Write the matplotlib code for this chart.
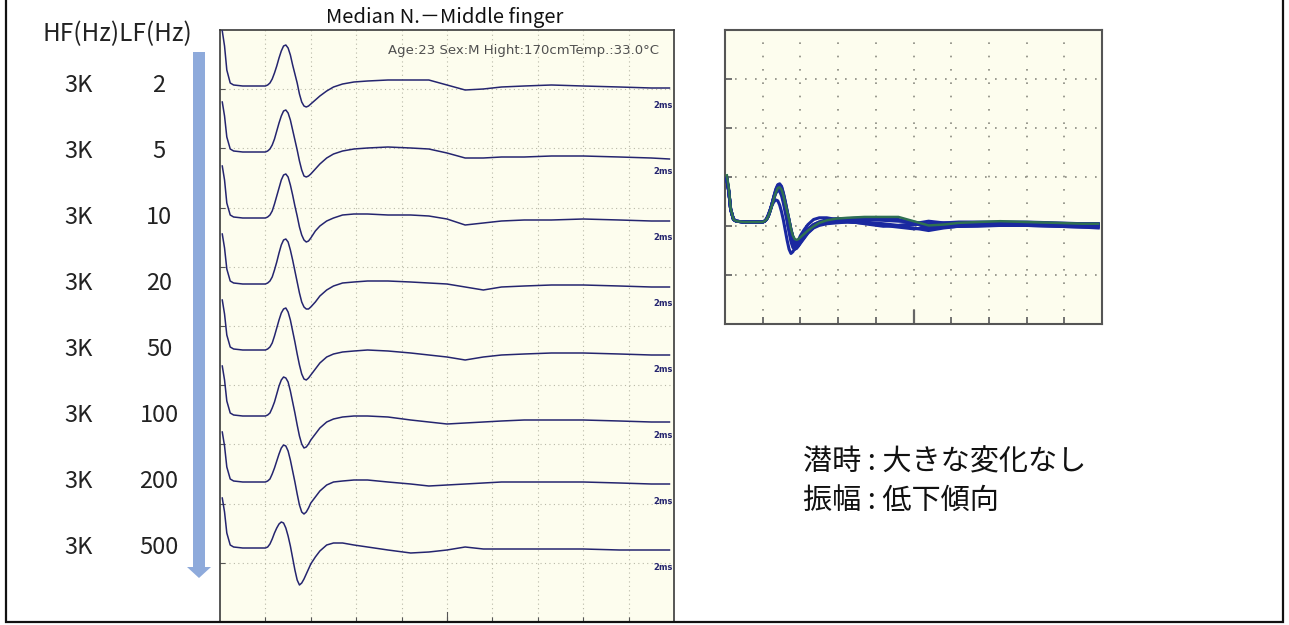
"""
+ 神経伝導検査: LF(低域フィルタ)を変えたときの波形比較
"""
import matplotlib
matplotlib.use("Agg")
import matplotlib.pyplot as plt
import numpy as np
from matplotlib.patches import FancyArrow, Rectangle

FIG_W, FIG_H = 1289, 625  # 出力サイズ(px)
DPI = 100

# --- フィルタ設定 ---
hf_labels = ["3K", "3K", "3K", "3K", "3K", "3K", "3K", "3K"]
lf_labels = ["2", "5", "10", "20", "50", "100", "200", "500"]

# --- 時間軸 (ms) 2ms/div x 10div ---
time_ms = [0.1, 0.2, 0.3, 0.45, 0.6, 1.0, 1.8,
           2.0, 2.1, 2.2, 2.3, 2.4, 2.5, 2.6, 2.7, 2.8, 2.9, 3.0,
           3.1, 3.2, 3.3, 3.4, 3.5, 3.6, 3.7, 3.8, 3.9, 4.0,
           4.2, 4.4, 4.7, 5.0, 5.4, 5.9, 6.5,
           7.4, 8.4, 9.2, 10.0, 10.8, 11.6, 12.4, 13.4, 14.6, 16.0, 17.6, 19.0, 19.8]

# --- 各LFの波形 (振幅, 基線=0) ---
wave_lf2 = [55, 40, 16, 3, 1, 0, 0,
            0, 1, 3, 7, 13, 20, 28, 35, 40, 41, 38,
            31, 21, 12, 3, -8, -16, -20, -21, -20, -18,
            -14, -10, -5, -1, 2, 4, 5,
            6, 6, 6, 1, -4, -3, -1, 0, 1, 0, -1, -2, -2]
wave_lf5 = [50, 36, 15, 3, 1, 0, 0,
            0, 1, 3, 7, 13, 21, 29, 36, 41, 42, 39,
            32, 22, 12, 2, -9, -18, -24, -25, -24, -22,
            -17, -12, -6, -2, 1, 3, 4,
            5, 4, 3, -1, -6, -6, -5, -5, -4, -4, -5, -6, -7]
wave_lf10 = [52, 38, 15, 3, 1, 0, 0,
             0, 1, 3, 7, 14, 22, 30, 38, 43, 44, 41,
             33, 23, 12, 2, -9, -17, -22, -24, -23, -20,
             -13, -8, -3, 0, 3, 4, 4,
             3, 3, 2, -1, -7, -5, -3, -2, -2, -1, -2, -3, -3]
wave_lf20 = [50, 36, 15, 3, 1, 0, 0,
             0, 1, 3, 7, 14, 22, 31, 39, 44, 45, 42,
             34, 24, 13, 2, -9, -18, -23, -25, -25, -23,
             -18, -12, -6, -2, 1, 2, 3,
             3, 2, 1, 0, -3, -6, -3, -2, -1, -1, -2, -3, -3]
wave_lf50 = [50, 36, 15, 3, 1, 0, 0,
             0, 1, 3, 7, 14, 22, 30, 37, 41, 42, 38,
             30, 19, 8, -4, -15, -24, -29, -30, -28, -25,
             -19, -13, -7, -4, -2, -1, 0,
             -1, -3, -5, -7, -10, -7, -5, -4, -3, -3, -4, -5, -5]
wave_lf100 = [50, 36, 15, 3, 1, 0, 0,
              0, 1, 3, 8, 14, 22, 30, 36, 39, 38, 34,
              25, 14, 3, -9, -20, -28, -32, -31, -28, -24,
              -18, -12, -6, -3, -1, 0, 0,
              -1, -4, -6, -8, -7, -6, -5, -4, -4, -4, -5, -6, -6]
wave_lf200 = [50, 36, 15, 3, 1, 0, 0,
              0, 1, 3, 8, 14, 21, 28, 34, 37, 36, 31,
              22, 11, 0, -12, -23, -30, -32, -30, -26, -21,
              -15, -9, -3, 0, 1, 2, 2,
              0, -2, -4, -3, -2, -1, 0, 0, 0, 0, -1, -2, -2]
wave_lf500 = [50, 36, 15, 3, 1, 0, 0,
              0, 1, 4, 9, 15, 20, 24, 26, 25, 20, 12,
              2, -10, -22, -32, -37, -35, -31, -26, -21, -16,
              -9, -3, 3, 5, 5, 3, 1,
              -2, -5, -4, -2, 1, -1, -1, -1, -1, -1, -2, -2, -2]
waves = [wave_lf2, wave_lf5, wave_lf10, wave_lf20, wave_lf50, wave_lf100,
         wave_lf200, wave_lf500]

title_text = "Median N.－Middle finger"
info_text = "Age:23 Sex:M Hight:170cmTemp.:33.0°C"
note_lines = ["潜時 : 大きな変化なし", "振幅 : 低下傾向"]

# --- 見た目 ---
SCREEN_BG = "#fdfdee"
TRACE_COLOR = "#25256f"
TRACE_STEP = 66  # 波形の縦間隔
plt.rcParams['font.family'] = ['Noto Sans CJK JP', 'DejaVu Sans']


def px_box(x0, y0, x1, y1):
    """ ピクセル座標(左上原点) -> figure座標 """
    return [x0 / FIG_W, 1 - y1 / FIG_H, (x1 - x0) / FIG_W, (y1 - y0) / FIG_H]


fig = plt.figure(figsize=(FIG_W / DPI, FIG_H / DPI), dpi=DPI, facecolor="white")

# ========== 左: LF別の波形 ==========
ax = fig.add_axes(px_box(220, 30, 674, 622))
ax.set_facecolor(SCREEN_BG)
ax.set_xlim(0, 20)
ax.set_ylim(-536, 56)
xgrid = np.linspace(0, 20, 11)[1:-1]
ygrid = np.linspace(-536, 56, 11)[1:-1]
for xv in xgrid:
    ax.axvline(xv, color="#b9b9a8", lw=0.8, ls=(0, (1, 3)), zorder=1)
for yv in ygrid:
    ax.axhline(yv, color="#b9b9a8", lw=0.8, ls=(0, (1, 3)), zorder=1)
for i, w in enumerate(waves):
    off = -TRACE_STEP * i
    ax.plot(time_ms, np.array(w) + off, color=TRACE_COLOR, lw=1.1, zorder=3)
    ax.text(19.95, off - 19, "2ms", ha="right", va="center", fontsize=6,
            fontweight="bold", color=TRACE_COLOR, family="DejaVu Sans")
ax.text(0.967, 0.966, info_text, transform=ax.transAxes, ha="right", va="center",
        fontsize=9.5, color="#505050", family="DejaVu Sans")
ax.set_xticks(xgrid)
ax.set_yticks(ygrid)
ax.set_xticklabels([])
ax.set_yticklabels([])
ax.tick_params(direction="in", length=3.5, width=0.8, color="#555555")
ax.axvline(10, ymin=0, ymax=10 / 592, color="#555555", lw=0.8)
for sp in ax.spines.values():
    sp.set_color("#3a3a3a")
    sp.set_linewidth(1.2)

# ========== 右: 重ね書き ==========
ax2 = fig.add_axes(px_box(725, 30, 1102, 324))
ax2.set_facecolor(SCREEN_BG)
ax2.set_xlim(0, 20)
ax2.set_ylim(-120, 226)
xgrid2 = np.linspace(0, 20, 11)[1:-1]
ygrid2 = np.linspace(-120, 226, 7)[1:-1]
for xv in xgrid2:
    ax2.axvline(xv, color="#8a8a80", lw=1.2, ls=(0, (1, 7)), zorder=1)
for yv in ygrid2:
    ax2.axhline(yv, color="#8a8a80", lw=1.2, ls=(0, (1, 5)), zorder=1)
for i, w in enumerate(waves):
    if i == 0:
        continue
    ax2.plot(time_ms, w, color="#1a28a0", lw=2.2, zorder=3)
ax2.plot(time_ms, waves[0], color="#2f7052", lw=1.8, zorder=4)  # 緑はLF2
ax2.set_xticks(xgrid2)
ax2.set_yticks(ygrid2)
ax2.set_xticklabels([])
ax2.set_yticklabels([])
ax2.tick_params(direction="in", length=5, width=1.3, color="#666666")
ax2.axvline(10, ymin=0, ymax=13 / 294, color="#666666", lw=1.6)
for sp in ax2.spines.values():
    sp.set_color("#555555")
    sp.set_linewidth(1.5)

# ========== 文字・矢印・枠 ==========
ov = fig.add_axes([0, 0, 1, 1])
ov.set_xlim(0, FIG_W)
ov.set_ylim(FIG_H, 0)
ov.axis("off")
ov.patch.set_alpha(0)

ov.add_patch(Rectangle((6, -20), 1277, 642, fill=False, ec="#111111", lw=1.6,
                       clip_on=False))
ov.text(445, 18, title_text, ha="center", va="center", fontsize=14.5, color="#111111")
ov.text(117, 34, "HF(Hz)LF(Hz)", ha="center", va="center", fontsize=17.5,
        color="#222222")
for i in range(len(lf_labels)):
    y = 86 + TRACE_STEP * i
    ov.text(79, y, hf_labels[i], ha="center", va="center", fontsize=17, color="#222222")
    ov.text(159, y, lf_labels[i], ha="center", va="center", fontsize=17, color="#222222")

ov.add_patch(FancyArrow(199, 52, 0, 526, width=12, head_width=24, head_length=11,
                        length_includes_head=True, color="#8eaadb", lw=0))

for k, line in enumerate(note_lines):
    ov.text(803, 462 + 39 * k, line, ha="left", va="center", fontsize=21, color="#111111")

fig.savefig("out.png", dpi=DPI, facecolor="white")
